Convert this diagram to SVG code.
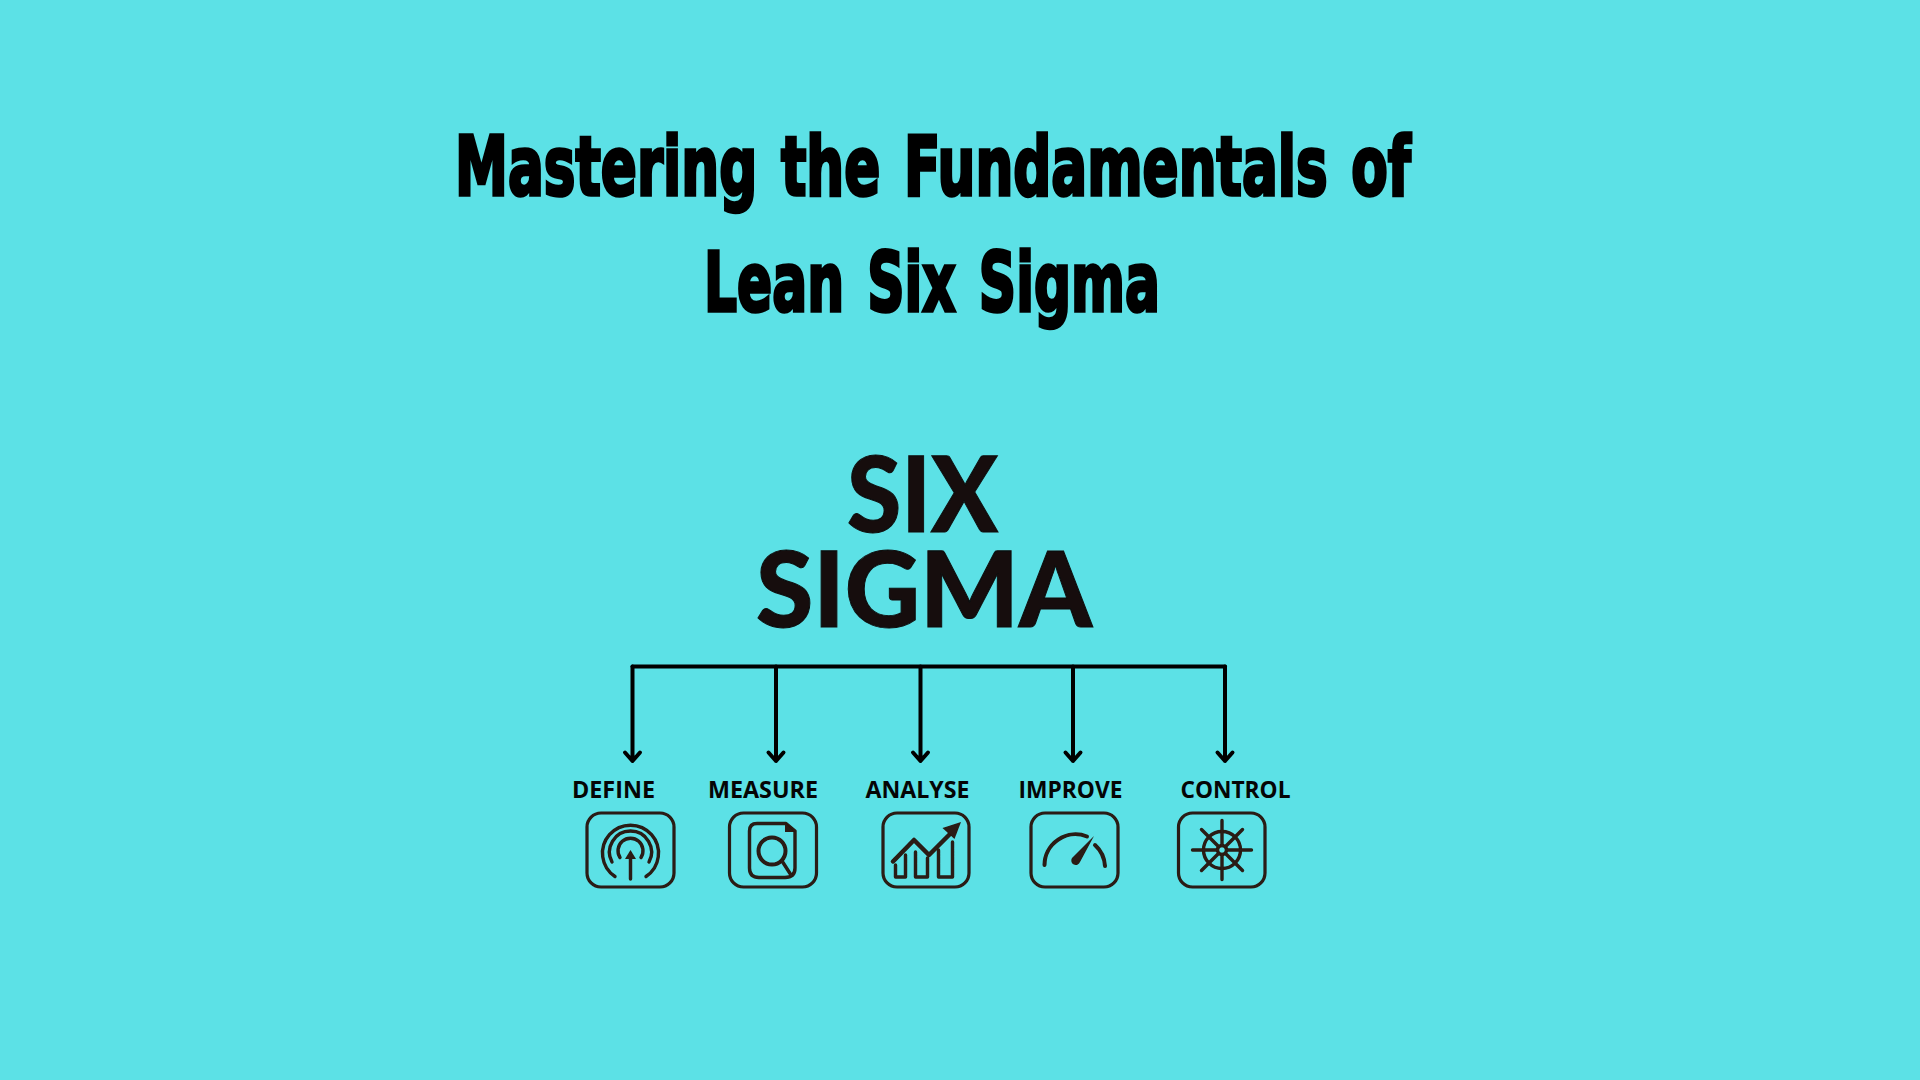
<svg xmlns="http://www.w3.org/2000/svg" width="1920" height="1080" viewBox="0 0 1920 1080">
<defs>
<style>
.title{font-family:"DejaVu Sans","Liberation Sans",sans-serif;font-weight:700;font-size:82px;fill:#000;stroke:#000;stroke-width:3.6px;word-spacing:8px}
.logo{font-family:"Lato","Liberation Sans",sans-serif;font-weight:900;font-size:104px;fill:#120c0c;stroke:#120c0c;stroke-width:1px}
.lbl{font-family:"Open Sans","Liberation Sans",sans-serif;font-weight:700;font-size:22.5px;fill:#050505}
.conn{fill:none;stroke:#000;stroke-width:4;stroke-linecap:round;stroke-linejoin:round}
.box{fill:none;stroke:#2a1a12;stroke-width:3.2}
.ic{fill:none;stroke:#2a1a12;stroke-width:3.4;stroke-linecap:round;stroke-linejoin:round}
.icf{fill:#2a1a12}
</style>
<filter id="soft" x="-5%" y="-5%" width="110%" height="110%"><feGaussianBlur stdDeviation="0.5"/></filter>
</defs>
<rect width="1920" height="1080" fill="#5ce1e6"/>
<g id="title">
<text class="title" x="455" y="195" textLength="956" lengthAdjust="spacingAndGlyphs">Mastering the Fundamentals of</text>
<text class="title" x="704" y="311" textLength="456" lengthAdjust="spacingAndGlyphs">Lean Six Sigma</text>
</g>
<g id="logo" filter="url(#soft)">
<text class="logo"><tspan x="847" y="532" textLength="151" lengthAdjust="spacingAndGlyphs">SIX</tspan><tspan x="756" y="627" textLength="336" lengthAdjust="spacingAndGlyphs">SIGMA</tspan></text>
</g>
<g id="connectors" class="conn">
<path d="M632.500 666.500H1225"/>
<path d="M632.500 666.500V761M625 752.500L632.500 761L640 752.500"/>
<path d="M776 666.500V761M768.500 752.500L776 761L783.500 752.500"/>
<path d="M920.500 666.500V761M913 752.500L920.500 761L928 752.500"/>
<path d="M1073 666.500V761M1065.500 752.500L1073 761L1080.500 752.500"/>
<path d="M1225 666.500V761M1217.500 752.500L1225 761L1232.500 752.500"/>
</g>
<g id="define">
<text class="lbl" x="572" y="798" textLength="83" lengthAdjust="spacingAndGlyphs">DEFINE</text>
<g filter="url(#soft)">
<rect class="box" x="587" y="813" width="87" height="74" rx="14"/>
<g class="ic"><path d="M630.500 879V856"/><path d="M615 876.500A28 28 0 1 1 646 876.500"/><path d="M612 862A21 21 0 1 1 649 862"/><path d="M620 857.500A12.500 12.500 0 1 1 641 857.500"/></g>
<path class="icf" d="M630.500 850l-5.500 9h11z"/>
</g>
</g>
<g id="measure">
<text class="lbl" x="708" y="798" textLength="110" lengthAdjust="spacingAndGlyphs">MEASURE</text>
<g filter="url(#soft)">
<rect class="box" x="729.500" y="813" width="87" height="74" rx="14"/>
<path class="ic" d="M757 823.500H786L795 831V868Q795 877.500 785 877.500H759Q749.500 877.500 749.500 868V831Q749.500 823.500 757 823.500Z"/>
<path class="icf" d="M785 823L795 832H785Z"/>
<circle class="ic" cx="772" cy="851" r="13.500" style="stroke-width:4"/>
<path class="ic" d="M782 861L791 875"/>
</g>
</g>
<g id="analyse">
<text class="lbl" x="865.500" y="798" textLength="104" lengthAdjust="spacingAndGlyphs">ANALYSE</text>
<g filter="url(#soft)">
<rect class="box" x="883" y="813" width="86" height="74" rx="14"/>
<path class="ic" d="M893 861.500L914 840L929 855L950 834" style="stroke-width:4.5"/>
<path class="icf" d="M942.500 828L961 822L954.500 839Z"/>
<path class="ic" d="M895.500 865V877H905.500V855M915.500 852V877H927.500V858M938.500 850V877H952.500V842"/>
</g>
</g>
<g id="improve">
<text class="lbl" x="1018.500" y="798" textLength="104" lengthAdjust="spacingAndGlyphs">IMPROVE</text>
<g filter="url(#soft)">
<rect class="box" x="1031" y="813" width="87" height="74" rx="14"/>
<path class="ic" style="stroke-width:4" d="M1044.500 865A31 31 0 0 1 1087 836.500"/>
<path class="ic" style="stroke-width:4" d="M1095 845A31 31 0 0 1 1105 866"/>
<path class="icf" d="M1094 836L1080 862A4.500 4.500 0 1 1 1072 858Z"/>
</g>
</g>
<g id="control">
<text class="lbl" x="1180.500" y="798" textLength="110" lengthAdjust="spacingAndGlyphs">CONTROL</text>
<g filter="url(#soft)">
<rect class="box" x="1178.500" y="813" width="86.500" height="74" rx="14"/>
<g class="ic" transform="translate(1222 850)">
<circle r="18.500"/><circle r="4.500"/>
<path d="M0 -29.500V-4.500M0 4.500V29.500M-29.500 0H-4.500M4.500 0H29.500M-20.500 -20.500L-3.500 -3.500M3.500 3.500L20.500 20.500M-20.500 20.500L-3.500 3.500M3.500 -3.500L20.500 -20.500"/>
</g>
</g>
</g>
</svg>
